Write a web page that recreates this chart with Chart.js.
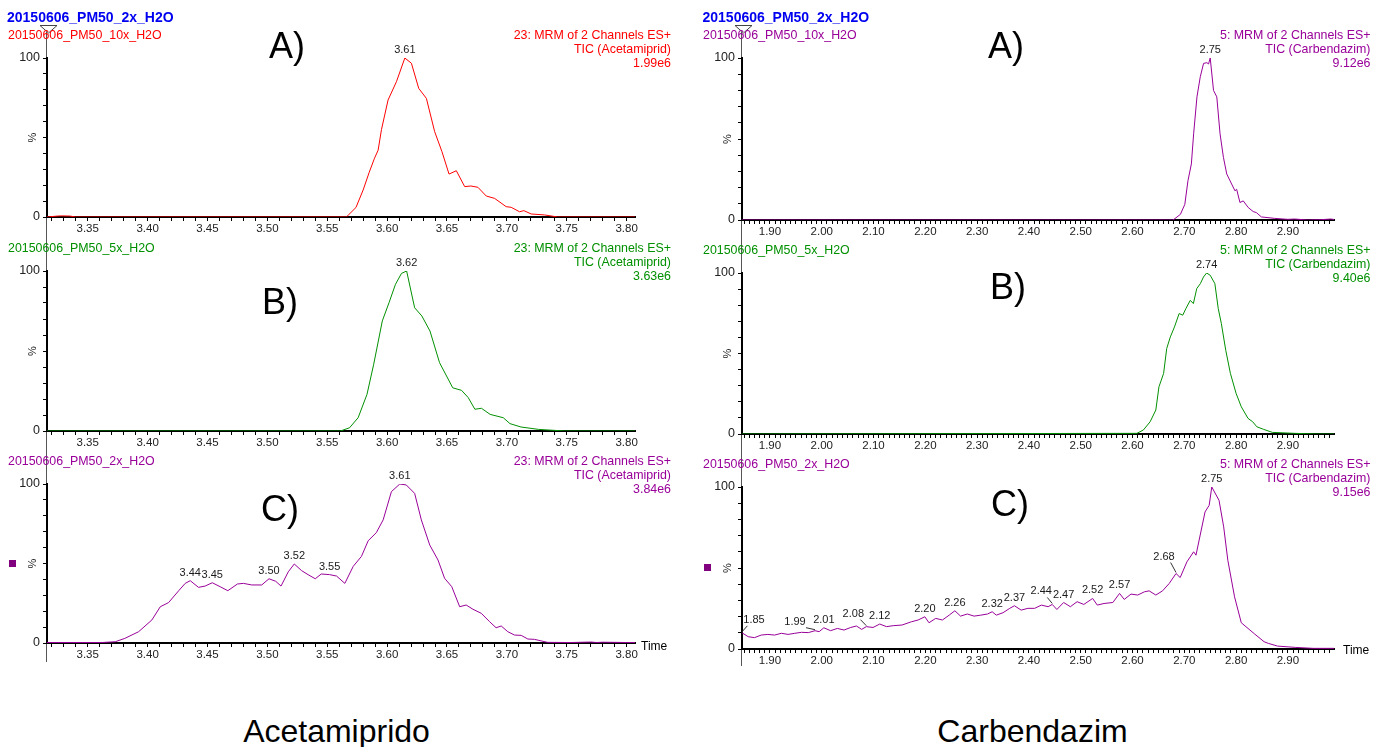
<!DOCTYPE html>
<html><head><meta charset="utf-8">
<script src="https://cdn.jsdelivr.net/npm/chart.js@4.4.1/dist/chart.umd.min.js"></script>
<style>
html,body{margin:0;padding:0;background:#fff;}
body{width:1383px;height:747px;position:relative;overflow:hidden;font-family:"Liberation Sans",Arial,sans-serif;}
canvas{position:absolute;}
.t{position:absolute;white-space:nowrap;font-size:12.4px;line-height:14px;}
.title{position:absolute;white-space:nowrap;font-size:14px;line-height:16px;font-weight:bold;color:#0000f0;}
.big{position:absolute;font-size:36px;line-height:36px;color:#000;white-space:nowrap;transform:translateX(-50%);}
.foot{position:absolute;font-size:32px;line-height:32px;color:#000;white-space:nowrap;transform:translateX(-50%);}
.sq{position:absolute;width:7px;height:7px;background:#800080;}
svg{position:absolute;left:0;top:0;}
</style></head><body>
<svg width="1383" height="747" id="deco"></svg>
<script>
// ---------------- DATA ----------------
const leftRange = [3.316, 3.807];
const rightRange = [1.846, 2.989];
const yTickValues = [0,10,20,30,40,50,60,70,80,90,100];
const yTickLabels = ['0','','','','','','','','','','100'];

const leftA_t = [3.316,3.325,3.328,3.335,3.34,3.566,3.568,3.574,3.580,3.585,3.5895,3.5925,3.5953,3.6008,3.6078,3.6148,3.6203,3.6264,3.6328,3.6397,3.6458,3.6517,3.6578,3.6648,3.670,3.6758,3.6828,3.6898,3.6994,3.7036,3.7106,3.7142,3.7203,3.7314,3.7425,3.807];
const leftA_v = [0,0.6,0.7,0.6,0,0,1.5,6,17,28,37,42,55,73.6,85.1,100,96.7,80.9,74.6,53.7,41.1,27,29.1,19.1,19.5,18.7,13.2,11.7,6.5,6.1,3.3,4,1.9,1.3,0,0];
const leftA_peakT = [3.6148];
const leftA_peakText = ['3.61'];

const leftB_t = [3.316,3.561,3.5686,3.5758,3.5832,3.5888,3.596,3.6016,3.607,3.612,3.6163,3.623,3.629,3.6358,3.6438,3.6548,3.6622,3.6678,3.6733,3.6788,3.686,3.697,3.7026,3.7118,3.7265,3.7485,3.807];
const leftB_v = [0,0,2,8.3,22.9,41.7,68.8,80.2,91.7,98.5,100,77,71.9,62.5,42.7,27,25.4,20.8,13.6,14.2,10.4,8.3,4.6,2.5,1,0,0];
const leftB_peakT = [3.6163];
const leftB_peakText = ['3.62'];

const leftC_t = [3.316,3.362,3.373,3.381,3.3925,3.4036,3.4106,3.4175,3.426,3.4314,3.4356,3.4425,3.448,3.454,3.4606,3.467,3.475,3.48,3.487,3.4953,3.5014,3.507,3.5114,3.5175,3.5225,3.5286,3.534,3.540,3.545,3.552,3.5578,3.5647,3.5717,3.5786,3.5842,3.591,3.5967,3.6036,3.6106,3.616,3.623,3.6286,3.6356,3.6425,3.648,3.654,3.6606,3.666,3.6717,3.6786,3.6856,3.691,3.6953,3.7008,3.7064,3.712,3.7175,3.723,3.734,3.7536,3.77,3.775,3.78,3.80,3.807];
const leftC_v = [0.3,0.3,0.8,2.9,7.1,14.5,22.8,25.4,32.9,37.5,39.2,35,35.8,37.9,35.4,32.9,37.1,37.5,36.5,36.5,40.4,38.8,35.8,44.8,49.7,45.5,43,40.4,43.4,43,42.1,37.5,48.2,54.5,64.3,69.4,77.4,95.2,100,99.4,94.1,77.4,61.6,52.2,40.7,35.4,22.8,23.9,21.2,18.7,13.4,9.6,10.7,7.1,5,4.8,2.5,2.3,0.4,0.3,0.6,0.3,0.5,0.3,0.3];
const leftC_peakT = [3.4356,3.454,3.5014,3.5225,3.552,3.6106];
const leftC_peakText = ['3.44','3.45','3.50','3.52','3.55','3.61'];

const rightA_t = [1.846,2.677,2.68,2.6925,2.701,2.707,2.7136,2.718,2.7244,2.7308,2.7372,2.7436,2.7468,2.75,2.7564,2.7627,2.769,2.7755,2.7819,2.7914,2.7978,2.801,2.8074,2.8138,2.8234,2.833,2.839,2.8489,2.8744,2.90,2.9127,2.938,2.9637,2.983,2.989];
const rightA_v = [0,0,0.4,3.5,9.7,24.2,34.6,53.2,76,88.4,96.7,97.1,96.3,100,80,76,53.2,38.7,28.4,22.2,18,19,10.8,11.8,7.7,5.2,4.6,1.9,1,0.4,0.6,0,0.2,0.6,0.3];
const rightA_peakT = [2.75];
const rightA_peakText = ['2.75'];

const rightB_t = [1.846,2.6085,2.621,2.634,2.645,2.651,2.660,2.666,2.673,2.681,2.690,2.697,2.703,2.7115,2.7175,2.724,2.731,2.737,2.743,2.750,2.759,2.7655,2.7715,2.780,2.789,2.800,2.810,2.823,2.832,2.840,2.853,2.870,2.913,2.956,2.989];
const rightB_v = [0,0.4,2.5,7.6,14.9,29.3,37.6,53.1,60.3,66.5,74.8,73.8,77.9,83,81,90.3,93.4,97.5,100,98.6,93.4,77.9,68.6,52,37.6,25.2,16.9,9.7,7.6,4.5,2.9,1,0.4,0,0];
const rightB_peakT = [2.743];
const rightB_peakText = ['2.74'];

const rightC_t = [1.846,1.858,1.87,1.883,1.896,1.909,1.922,1.935,1.948,1.961,1.974,1.987,1.995,2.004,2.017,2.03,2.043,2.056,2.067,2.077,2.086,2.099,2.112,2.125,2.138,2.155,2.173,2.186,2.199,2.207,2.22,2.233,2.246,2.257,2.268,2.281,2.294,2.307,2.32,2.329,2.337,2.35,2.363,2.372,2.385,2.398,2.411,2.424,2.437,2.445,2.454,2.467,2.48,2.493,2.506,2.523,2.532,2.545,2.562,2.575,2.584,2.597,2.61,2.623,2.632,2.645,2.658,2.671,2.684,2.692,2.705,2.718,2.7225,2.74,2.748,2.753,2.767,2.776,2.784,2.797,2.81,2.823,2.836,2.854,2.862,2.88,2.914,2.949,2.989];
const rightC_v = [10,7.6,7,8.6,9,8.6,9.7,9,9.7,10.3,10.1,11.3,10.7,13.1,11.3,12.7,11.7,13.3,14.2,12.1,13.8,13.3,15.4,13.8,14.4,14.8,16.8,17.9,19.9,16.2,18.9,17.9,20.9,23.6,20.3,21.6,20.3,20.9,21.6,23,20.9,22.4,25.1,26.7,24,25.1,25.1,27.1,26.1,27.5,24.4,28.7,26.1,29.2,27.5,31.2,27.1,28.1,28.7,34.3,30.6,33.9,33.3,35.3,35.9,33.3,35.9,40.5,46.6,44.1,53.8,60,57.9,84.6,88.7,100,91.8,75.4,54.8,32.2,16.2,12.7,9.2,4.5,3.5,1.8,1,0.4,0.4];
const rightC_peakT = [1.846,1.987,2.004,2.086,2.112,2.199,2.257,2.329,2.372,2.445,2.467,2.523,2.575,2.684,2.753];
const rightC_peakText = ['1.85','1.99','2.01','2.08','2.12','2.20','2.26','2.32','2.37','2.44','2.47','2.52','2.57','2.68','2.75'];

const titleText = '20150606_PM50_2x_H2O';
const sampleNames = ['20150606_PM50_10x_H2O','20150606_PM50_5x_H2O','20150606_PM50_2x_H2O'];
const leftHeader = ['23: MRM of 2 Channels ES+','TIC (Acetamiprid)'];
const rightHeader = ['5: MRM of 2 Channels ES+','TIC (Carbendazim)'];
const leftIntensity = ['1.99e6','3.63e6','3.84e6'];
const rightIntensity = ['9.12e6','9.40e6','9.15e6'];
const panelLetters = ['A)','B)','C)'];
const footLabels = ['Acetamiprido','Carbendazim'];

// ---------------- STYLE / LAYOUT ----------------
const RED='#ff0000', GREEN='#009000', PURPLE='#990099';
const FONT='"Liberation Sans", Arial, sans-serif';
const WY=40, PT=22, PR=30, HX=24;
const leaderOffsets = {0:[12,-13],1:[-20,-9],3:[-13,-13],9:[-11,-13],13:[-12,-17]};

const panels = [
 {t:leftA_t,v:leftA_v,c:RED,range:leftRange,L:47,R:635,T:58,B:217,major:20,pk:leftA_peakT,pt:leftA_peakText,side:0,row:0},
 {t:leftB_t,v:leftB_v,c:GREEN,range:leftRange,L:47,R:635,T:271,B:431,major:20,pk:leftB_peakT,pt:leftB_peakText,side:0,row:1},
 {t:leftC_t,v:leftC_v,c:PURPLE,range:leftRange,L:47,R:635,T:484,B:643,major:20,pk:leftC_peakT,pt:leftC_peakText,side:0,row:2},
 {t:rightA_t,v:rightA_v,c:PURPLE,range:rightRange,L:742,R:1334,T:58,B:220,major:10,pk:rightA_peakT,pt:rightA_peakText,side:1,row:0},
 {t:rightB_t,v:rightB_v,c:GREEN,range:rightRange,L:742,R:1334,T:273,B:434,major:10,pk:rightB_peakT,pt:rightB_peakText,side:1,row:1},
 {t:rightC_t,v:rightC_v,c:PURPLE,range:rightRange,L:742,R:1334,T:487,B:649,major:10,pk:rightC_peakT,pt:rightC_peakText,side:1,row:2,offs:leaderOffsets}
];

function interp(ts, vs, t){
  if(t<=ts[0]) return vs[0];
  for(let i=1;i<ts.length;i++){ if(t<=ts[i]){ const f=(t-ts[i-1])/(ts[i]-ts[i-1]); return vs[i-1]+f*(vs[i]-vs[i-1]); } }
  return vs[vs.length-1];
}

const peakPlugin = {
  id:'peakLabels',
  afterDatasetsDraw(chart, args, o){
    const {ctx} = chart; const x=chart.scales.x, y=chart.scales.y;
    ctx.save();
    ctx.font = '11px '+FONT; ctx.fillStyle='#1a1a1a'; ctx.textAlign='center'; ctx.textBaseline='middle';
    o.times.forEach((t,i)=>{
      const v = interp(o.ts,o.vs,t);
      const px = x.getPixelForValue(t), py = y.getPixelForValue(v);
      const off = o.offs && o.offs[i];
      const dx = off?off[0]:0, dy = off?off[1]:-8;
      if(off){ ctx.strokeStyle='#333'; ctx.lineWidth=1; ctx.beginPath(); ctx.moveTo(px,py-1); ctx.lineTo(px+dx*0.45, py+dy+6); ctx.stroke(); }
      ctx.fillText(o.texts[i], px+dx, py+dy);
    });
    ctx.translate(x.left-14, y.getPixelForValue(50)); ctx.rotate(-Math.PI/2);
    ctx.font='11px '+FONT; ctx.fillStyle='#222'; ctx.fillText('%',0,0);
    ctx.restore();
  }
};

function addDiv(cls, text, style){ const d=document.createElement('div'); d.className=cls; d.textContent=text; Object.assign(d.style, style); document.body.appendChild(d); return d; }

panels.forEach((p,idx)=>{
  const cv = document.createElement('canvas');
  const W = WY + (p.R-p.L) + PR, H = PT + (p.B-p.T) + HX;
  cv.width=W; cv.height=H; cv.style.left=(p.L-WY)+'px'; cv.style.top=(p.T-PT)+'px';
  cv.style.width=W+'px'; cv.style.height=H+'px';
  document.body.appendChild(cv);
  const [mn,mx]=p.range;
  new Chart(cv.getContext('2d'),{
    type:'line',
    data:{datasets:[{data:p.t.map((t,i)=>({x:t,y:p.v[i]})),borderColor:p.c,borderWidth:1,pointRadius:0,tension:0,fill:false}]},
    options:{
      responsive:false, animation:false, events:[], devicePixelRatio:1,
      layout:{padding:{left:0,top:PT,right:PR,bottom:0}},
      plugins:{legend:{display:false},tooltip:{enabled:false},
        peakLabels:{times:p.pk,texts:p.pt,ts:p.t,vs:p.v,offs:p.offs}},
      scales:{
        x:{type:'linear',min:mn,max:mx,
          afterFit(s){s.height=HX;},
          afterBuildTicks(s){ const a=[]; for(let k=Math.ceil(mn*100-1e-9);k<=Math.floor(mx*100+1e-9);k++) a.push({value:k/100}); s.ticks=a; },
          ticks:{autoSkip:false,maxRotation:0,minRotation:0,padding:1,color:'#222',font:{family:FONT,size:11.5},
            callback(v){ const k=Math.round(v*100); return (Math.abs(v*100-k)<1e-6 && k%(p.major===20?5:10)===0)? (k/100).toFixed(2) : ''; }},
          grid:{drawOnChartArea:false,drawTicks:true,tickLength:4,tickColor:'#000',tickWidth:1},
          border:{display:true,color:'#000',width:2}},
        y:{type:'linear',min:0,max:100,
          afterFit(s){s.width=WY;},
          afterBuildTicks(s){ s.ticks=yTickValues.map(v=>({value:v})); },
          ticks:{autoSkip:false,padding:3,color:'#222',font:{family:FONT,size:12.5},
            callback(v){ const i=yTickValues.indexOf(v); return i>=0? yTickLabels[i] : ''; }},
          grid:{drawOnChartArea:false,drawTicks:true,tickLength:4,tickColor:'#000',tickWidth:1},
          border:{display:true,color:'#000',width:2}}
      }
    },
    plugins:[peakPlugin]
  });
  const leftX = p.side===0? 8 : 703;
  const rightEdge = p.side===0? 671 : 1370.5;
  const hdr = p.side===0? leftHeader : rightHeader;
  const inten = p.side===0? leftIntensity : rightIntensity;
  addDiv('t', sampleNames[p.row], {left:leftX+'px', top:(p.T-23-7)+'px', color:p.c});
  [hdr[0],hdr[1],inten[p.row]].forEach((s,j)=>{
    addDiv('t', s, {right:(1383-rightEdge)+'px', top:(p.T+[-23,-9,5][j]-7)+'px', color:p.c, textAlign:'right'});
  });
});

addDiv('title', titleText, {left:'7px', top:'8.5px'});
addDiv('title', titleText, {left:'702.5px', top:'8.5px'});

const letterPos = [[287,58],[280,314],[280,521],[1006,58],[1008,299],[1010,516]];
letterPos.forEach((q,i)=>{ addDiv('big', panelLetters[i%3], {left:q[0]+'px', top:(q[1]-30.5)+'px'}); });
addDiv('foot', footLabels[0], {left:'336.5px', top:'715px'});
addDiv('foot', footLabels[1], {left:'1032.5px', top:'715px'});
addDiv('t', 'Time', {left:'641px', top:'639px', color:'#000', fontSize:'12px'});
addDiv('t', 'Time', {left:'1343px', top:'643px', color:'#000', fontSize:'12px'});
addDiv('sq','',{left:'9px',top:'560px'});
addDiv('sq','',{left:'704px',top:'564px'});

const svg=document.getElementById('deco');
svg.innerHTML =
 '<line x1="46.5" y1="32" x2="46.5" y2="662" stroke="#555" stroke-width="1"/>'+
 '<line x1="741.5" y1="32" x2="741.5" y2="666" stroke="#555" stroke-width="1"/>'+
 '<polygon points="40,25.5 57,25.5 48.5,33" fill="none" stroke="#444" stroke-width="1"/>'+
 '<polygon points="735,25.5 752,25.5 743.5,33" fill="none" stroke="#444" stroke-width="1"/>';
</script>
</body></html>
